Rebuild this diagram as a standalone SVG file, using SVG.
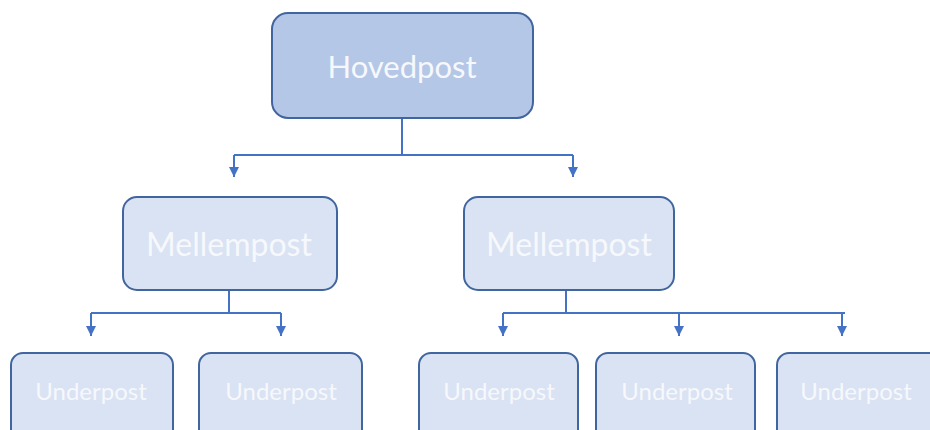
<svg xmlns="http://www.w3.org/2000/svg" width="930" height="430" viewBox="0 0 930 430">
  <defs>
    <marker id="arrow" viewBox="0 0 10 10" refX="10" refY="5" markerWidth="10" markerHeight="10" markerUnits="userSpaceOnUse" orient="auto">
      <path d="M0,0 L10,5 L0,10 Z" fill="#4472c4"/>
    </marker>
    <style>
      .box { stroke: #41669f; stroke-width: 2; }
      .top { fill: #b4c7e7; }
      .mid, .low { fill: #dae3f3; }
      .lbl { fill: #f6f8fc; font-family: Lato, "Open Sans", "Liberation Sans", sans-serif; text-anchor: middle; }
      .conn { fill: none; stroke: #4472c4; stroke-width: 2; }
    </style>
  </defs>
  <rect width="930" height="430" fill="#ffffff"/>

  <!-- connectors -->
  <g id="connectors">
    <path class="conn" d="M402,118 V155"/>
    <path class="conn" d="M234,155 H573"/>
    <path class="conn" d="M234,155 V177" marker-end="url(#arrow)"/>
    <path class="conn" d="M573,155 V177" marker-end="url(#arrow)"/>

    <path class="conn" d="M229,290 V313"/>
    <path class="conn" d="M91,313 H281"/>
    <path class="conn" d="M91,313 V336" marker-end="url(#arrow)"/>
    <path class="conn" d="M281,313 V336" marker-end="url(#arrow)"/>

    <path class="conn" d="M566,290 V313"/>
    <path class="conn" d="M503,313 H845"/>
    <path class="conn" d="M503,313 V336" marker-end="url(#arrow)"/>
    <path class="conn" d="M679,313 V336" marker-end="url(#arrow)"/>
    <path class="conn" d="M842,313 V336" marker-end="url(#arrow)"/>
  </g>

  <!-- top level -->
  <g id="hovedpost">
    <rect class="box top" x="272" y="13" width="261" height="105" rx="16"/>
    <text class="lbl" x="402" y="78" font-size="31">Hovedpost</text>
  </g>

  <!-- middle level -->
  <g id="mellempost-1">
    <rect class="box mid" x="123" y="197" width="214" height="93" rx="14"/>
    <text class="lbl" x="229" y="256" font-size="32">Mellempost</text>
  </g>
  <g id="mellempost-2">
    <rect class="box mid" x="464" y="197" width="210" height="93" rx="14"/>
    <text class="lbl" x="569" y="256" font-size="32">Mellempost</text>
  </g>

  <!-- bottom level -->
  <g id="underpost-1">
    <rect class="box low" x="11" y="353" width="162" height="90" rx="12"/>
    <text class="lbl" x="91" y="400" font-size="24">Underpost</text>
  </g>
  <g id="underpost-2">
    <rect class="box low" x="199" y="353" width="163" height="90" rx="12"/>
    <text class="lbl" x="281" y="400" font-size="24">Underpost</text>
  </g>
  <g id="underpost-3">
    <rect class="box low" x="419" y="353" width="159" height="90" rx="12"/>
    <text class="lbl" x="499" y="400" font-size="24">Underpost</text>
  </g>
  <g id="underpost-4">
    <rect class="box low" x="596" y="353" width="159" height="90" rx="12"/>
    <text class="lbl" x="677" y="400" font-size="24">Underpost</text>
  </g>
  <g id="underpost-5">
    <rect class="box low" x="777" y="353" width="165" height="90" rx="12"/>
    <text class="lbl" x="856" y="400" font-size="24">Underpost</text>
  </g>
</svg>
